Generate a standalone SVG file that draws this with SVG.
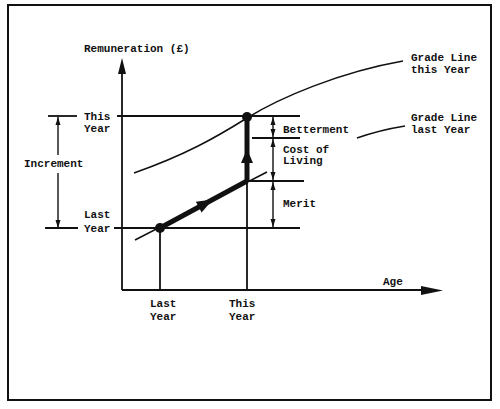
<svg xmlns="http://www.w3.org/2000/svg" width="500" height="409" viewBox="0 0 500 409">
<style>
text{font-family:"Liberation Mono","Courier New",monospace;font-size:11px;font-weight:bold;fill:#111}
.ln{stroke:#111;stroke-width:1.8;fill:none}
.thin{stroke:#111;stroke-width:1.5;fill:none}
.thick{stroke:#111;stroke-width:5;fill:none}
.ms{stroke:#111;stroke-width:1.4;fill:none;marker-start:url(#sa);marker-end:url(#sa)}
</style>
<defs>
<marker id="sa" markerUnits="userSpaceOnUse" markerWidth="10" markerHeight="8" refX="8" refY="3" orient="auto-start-reverse" viewBox="0 0 10 6">
<path d="M0,0.5 L8,3 L0,5.5 z" fill="#111"/>
</marker>
</defs>
<rect x="8" y="5" width="483" height="395" fill="#fff" stroke="#111" stroke-width="2"/>
<g id="axes">
<line class="ln" x1="122" y1="290" x2="122" y2="70"/>
<polygon points="118,74 122,58 126,74" fill="#111"/>
<line class="ln" x1="122" y1="290" x2="425" y2="290"/>
<polygon points="421,286 443,290.5 421,295" fill="#111"/>
<text x="84" y="52">Remuneration (£)</text>
<text x="383" y="285">Age</text>
</g>
<g id="connectors">
<line class="ln" x1="48" y1="116" x2="77" y2="116"/>
<line class="ln" x1="117" y1="116" x2="300" y2="116"/>
<line class="ln" x1="45" y1="228" x2="78" y2="228"/>
<line class="ln" x1="114" y1="228" x2="300" y2="228"/>
<line class="ln" x1="252" y1="138" x2="300" y2="138"/>
<line class="ln" x1="247" y1="181" x2="304" y2="181"/>
<line class="ln" x1="160" y1="228" x2="160" y2="290"/>
<line class="ln" x1="247" y1="181" x2="247" y2="290"/>
<line class="ms" x1="58" y1="155" x2="58" y2="117" style="marker-start:none"/>
<line class="ms" x1="58" y1="173" x2="58" y2="228" style="marker-start:none"/>
<line class="ms" x1="273" y1="117" x2="273" y2="137"/>
<line class="ms" x1="273" y1="139" x2="273" y2="180"/>
<line class="ms" x1="273" y1="182" x2="273" y2="227"/>
<path class="thin" d="M134,173 C185,155 215,138 247,118 S340,72 403,61"/>
<path class="thin" d="M135,240 L267,172"/>
<path class="thin" d="M357,138 Q380,130 405,126"/>
<line class="thick" x1="160" y1="228" x2="247" y2="181"/>
<polygon points="212.8,199.5 201.6,212.4 195.9,201.8" fill="#111"/>
<line class="thick" x1="247" y1="181" x2="247" y2="117"/>
<polygon points="247,149 241,163 253,163" fill="#111"/>
<circle cx="160" cy="228" r="5" fill="#111"/>
<circle cx="247" cy="117" r="5" fill="#111"/>
</g>
<g id="labels-left">
<text x="84" y="120">This</text>
<text x="84" y="132">Year</text>
<text x="24" y="167">Increment</text>
<text x="84" y="218">Last</text>
<text x="84" y="232">Year</text>
</g>
<g id="labels-bottom">
<text x="150" y="307">Last</text>
<text x="150" y="320">Year</text>
<text x="229" y="307">This</text>
<text x="229" y="320">Year</text>
</g>
<g id="labels-right">
<text x="411" y="61">Grade Line</text>
<text x="411" y="73">this Year</text>
<text x="411" y="121">Grade Line</text>
<text x="411" y="133">last Year</text>
<text x="283" y="133">Betterment</text>
<text x="283" y="153">Cost of</text>
<text x="283" y="164">Living</text>
<text x="283" y="207">Merit</text>
</g>
</svg>
